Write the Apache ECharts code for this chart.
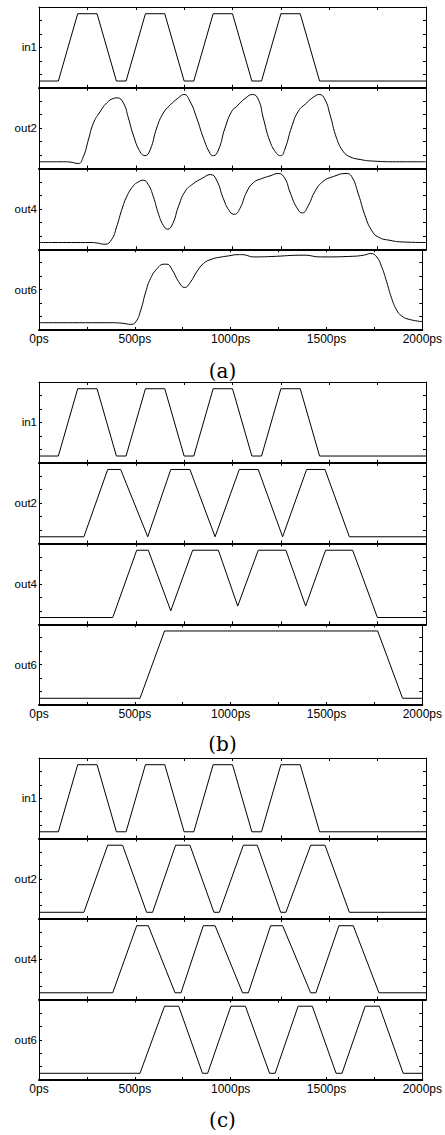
<!DOCTYPE html>
<html>
<head>
<meta charset="utf-8">
<script src="https://cdn.jsdelivr.net/npm/echarts@6/dist/echarts.min.js"></script>
<style>
  html, body { margin: 0; padding: 0; background: #fff; }
  #chart { width: 445px; height: 1135px; }
</style>
</head>
<body>
<div id="chart"></div>
<script>
// ---- data (time in ps, level in tick units 0..6) ----
const signalNames = ['in1', 'out2', 'out4', 'out6'];
const panelLabels = ['(a)', '(b)', '(c)'];
const xLabelValues = [0, 500, 1000, 1500, 2000];
const xLabelUnit = 'ps';

const in1 = [[0,0.5],[100,0.5],[200,5.5],[300,5.5],[400,0.5],[450,0.5],[550,5.5],[650,5.5],[750,0.5],[800,0.5],[900,5.5],[1000,5.5],[1100,0.5],[1150,0.5],[1250,5.5],[1350,5.5],[1450,0.5],[2000,0.5]];

const aOut2 = [[0,0.5],[126,0.5],[160,0.48],[203,0.37],[229,0.87],[255,2.12],[281,3.37],[315,4.2],[350,4.87],[384,5.2],[405,5.25],[436,4.87],[462,3.75],[487,2.5],[522,1.25],[548,0.95],[574,1.37],[608,3.0],[642,4.12],[677,4.7],[720,5.25],[749,5.5],[780,5.0],[815,3.75],[850,2.25],[884,1.12],[901,0.95],[927,1.37],[961,3.0],[996,4.25],[1022,4.62],[1065,5.2],[1104,5.5],[1134,5.12],[1159,3.75],[1194,2.0],[1228,1.12],[1249,0.95],[1271,1.45],[1306,3.1],[1340,4.25],[1383,4.87],[1418,5.3],[1449,5.5],[1478,5.12],[1504,4.0],[1538,2.25],[1573,1.25],[1607,0.87],[1659,0.67],[1728,0.55],[1848,0.5],[2000,0.5]];

const aOut4 = [[0,0.5],[264,0.5],[298,0.47],[341,0.37],[376,0.74],[401,1.66],[427,2.9],[453,3.9],[487,4.7],[513,5.0],[539,5.13],[565,4.8],[591,3.9],[617,2.65],[642,1.78],[665,1.49],[691,1.9],[720,3.15],[755,4.3],[797,4.87],[841,5.25],[887,5.55],[918,5.13],[953,3.75],[987,2.78],[1010,2.6],[1039,3.05],[1073,4.25],[1108,4.95],[1151,5.25],[1194,5.45],[1237,5.63],[1271,5.25],[1297,4.25],[1332,3.1],[1361,2.7],[1392,3.25],[1426,4.3],[1469,5.05],[1521,5.4],[1587,5.63],[1616,5.4],[1650,4.12],[1685,2.5],[1719,1.4],[1754,0.9],[1814,0.66],[1882,0.54],[2000,0.5]];

const aOut6 = [[0,0.54],[385,0.54],[436,0.5],[479,0.42],[505,0.6],[531,1.48],[557,2.84],[582,3.83],[617,4.57],[651,4.89],[668,4.89],[694,4.5],[729,3.58],[760,3.16],[789,3.53],[823,4.32],[858,4.94],[901,5.26],[953,5.43],[987,5.5],[1039,5.6],[1056,5.6],[1125,5.43],[1211,5.46],[1383,5.56],[1469,5.43],[1642,5.48],[1694,5.56],[1731,5.68],[1762,5.43],[1788,4.69],[1814,3.58],[1840,2.35],[1866,1.48],[1891,1.06],[1926,0.81],[2000,0.62]];

const bOut2 = [[0,0.5],[232,0.5],[355,5.5],[422,5.5],[562,0.5],[681,5.5],[780,5.5],[910,0.5],[1035,5.5],[1133,5.5],[1259,0.5],[1383,5.5],[1478,5.5],[1604,0.5],[2000,0.5]];
const bOut4 = [[0,0.5],[381,0.5],[505,5.5],[565,5.5],[681,1.0],[794,5.5],[927,5.5],[1027,1.35],[1133,5.5],[1276,5.5],[1378,1.35],[1481,5.5],[1621,5.5],[1749,0.5],[2000,0.5]];
const bOut6 = [[0,0.5],[527,0.5],[655,5.5],[1767,5.5],[1897,0.5],[2000,0.5]];

const cOut2 = [[0,0.5],[232,0.5],[355,5.5],[432,5.5],[556,0.5],[587,0.5],[706,5.5],[780,5.5],[904,0.5],[932,0.5],[1056,5.5],[1128,5.5],[1249,0.5],[1276,0.5],[1404,5.5],[1478,5.5],[1604,0.5],[2000,0.5]];
const cOut4 = [[0,0.5],[381,0.5],[505,5.5],[565,5.5],[703,0.5],[734,0.5],[849,5.5],[910,5.5],[1052,0.5],[1082,0.5],[1197,5.5],[1259,5.5],[1404,0.5],[1431,0.5],[1550,5.5],[1624,5.5],[1757,0.5],[2000,0.5]];
const cOut6 = [[0,0.5],[527,0.5],[655,5.5],[729,5.5],[853,0.5],[880,0.5],[1001,5.5],[1077,5.5],[1203,0.5],[1232,0.5],[1352,5.5],[1426,5.5],[1550,0.5],[1581,0.5],[1702,5.5],[1776,5.5],[1900,0.5],[2000,0.5]];

const panelData = [
  [in1, aOut2, aOut4, aOut6],
  [in1, bOut2, bOut4, bOut6],
  [in1, cOut2, cOut4, cOut6]
];
const panelSmooth = [[false, true, true, true], [false,false,false,false], [false,false,false,false]];

// ---- layout ----
const panelTops = [7, 382, 758];
const panelBottoms = [330, 705, 1080];
const captionY = [371, 744, 1120];
const plotLeft = 39, plotWidth = 387;
const sansFont = "'Liberation Sans', Arial, Helvetica, sans-serif";

const grids = [], xAxes = [], yAxes = [], series = [], graphics = [];
for (let p = 0; p < 3; p++) {
  const h = (panelBottoms[p] - panelTops[p]) / 4;
  for (let s = 0; s < 4; s++) {
    const g = p * 4 + s;
    grids.push({ left: plotLeft, width: plotWidth, top: panelTops[p] + s * h, height: h, show: false });
    const tick = { show: true, inside: true, length: 3, lineStyle: { color: '#000', width: 1 } };
    xAxes.push({
      type: 'value', gridIndex: g, position: 'bottom', min: 0, max: 2000, interval: 250,
      axisLine: { show: true, onZero: false, lineStyle: { color: '#000', width: 2 } },
      axisTick: tick,
      axisLabel: {
        show: s === 3, color: '#000', fontSize: 12, fontFamily: sansFont, margin: 3,
        showMinLabel: true, showMaxLabel: true, hideOverlap: false,
        formatter: v => xLabelValues.includes(v) ? v + xLabelUnit : ''
      },
      splitLine: { show: false }
    });
    xAxes.push({
      type: 'value', gridIndex: g, position: 'top', min: 0, max: 2000, interval: 250,
      axisLine: { show: true, onZero: false, lineStyle: { color: '#000', width: 1 } },
      axisTick: tick, axisLabel: { show: false }, splitLine: { show: false }
    });
    yAxes.push({
      type: 'value', gridIndex: g, position: 'left', min: 0, max: 6, interval: 1,
      axisLine: { show: true, onZero: false, lineStyle: { color: '#000', width: 1 } },
      axisTick: tick,
      axisLabel: {
        show: true, color: '#000', fontSize: 11.5, fontFamily: sansFont, margin: 2,
        padding: [0, 0, 5, 0],
        formatter: v => v === 3 ? signalNames[s] : ''
      },
      splitLine: { show: false }
    });
    yAxes.push({
      type: 'value', gridIndex: g, position: 'right', min: 0, max: 6, interval: 1,
      axisLine: { show: true, onZero: false, lineStyle: { color: '#000', width: 1 } },
      axisTick: tick, axisLabel: { show: false }, splitLine: { show: false }
    });
    const sm = panelSmooth[p][s];
    const ser = {
      type: 'line', name: panelLabels[p] + ' ' + signalNames[s],
      xAxisIndex: 2 * g, yAxisIndex: 2 * g,
      data: panelData[p][s],
      smooth: sm ? 0.5 : false,
      showSymbol: false, symbol: 'none',
      lineStyle: { color: '#000', width: 1 },
      animation: false, silent: true
    };
    series.push(ser);
  }
  graphics.push({
    type: 'text', x: 222.5, y: captionY[p], silent: true,
    style: { text: panelLabels[p], fill: '#000', fontSize: 20, fontFamily: "'DejaVu Serif', serif", textAlign: 'center', textVerticalAlign: 'middle' }
  });
}

const chart = echarts.init(document.getElementById('chart'), null, { renderer: 'svg', width: 445, height: 1135 });
chart.setOption({
  animation: false,
  backgroundColor: '#fff',
  grid: grids,
  xAxis: xAxes,
  yAxis: yAxes,
  series: series,
  graphic: graphics
});
</script>
</body>
</html>
